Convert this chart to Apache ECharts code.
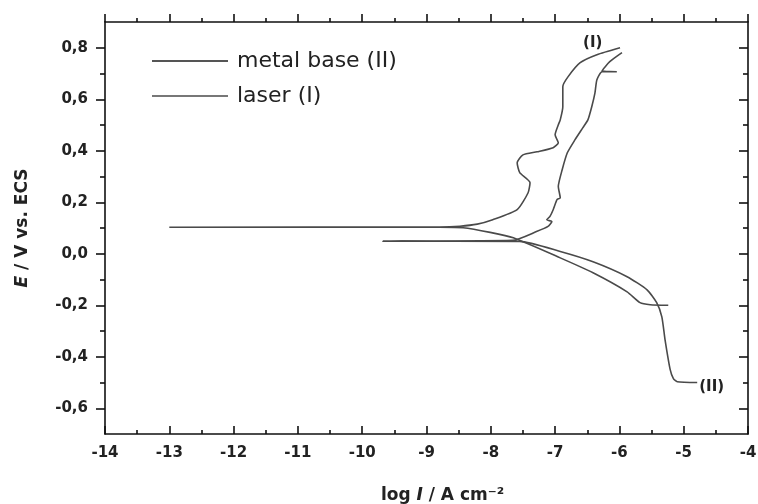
<!DOCTYPE html>
<html>
<head>
<meta charset="utf-8">
<script src="https://cdn.jsdelivr.net/npm/echarts@6/dist/echarts.min.js"></script>
<style>
html, body { margin: 0; padding: 0; background: #fff; }
#main { width: 758px; height: 504px; }
</style>
</head>
<body>
<div id="main"></div>
<script>
// polarisation curves, log i / A cm-2 against E / V vs. ECS
// laser: cathodic tail -> corrosion potential -> anodic end
var laserLogI = [-5.24, -5.52, -5.68, -5.88, -6.41, -6.92, -7.65, -8.01, -8.43, -8.8, -13.0,
                 -8.8, -8.48, -8.21, -7.97, -7.59, -7.42, -7.39, -7.55, -7.59, -7.50, -7.28,
                 -7.03, -6.95, -7.00, -6.95, -6.92, -6.88, -6.88, -6.80, -6.61, -6.35, -5.99];
var laserE = [-0.200, -0.198, -0.190, -0.148, -0.074, -0.016, 0.062, 0.083, 0.101, 0.103, 0.103,
              0.104, 0.107, 0.115, 0.132, 0.171, 0.237, 0.276, 0.315, 0.353, 0.384, 0.396,
              0.412, 0.431, 0.462, 0.501, 0.520, 0.571, 0.649, 0.687, 0.742, 0.773, 0.800];
// metal base: anodic end -> corrosion potential -> cathodic tail
var metalLogI = [-5.96, -6.15, -6.27, -6.04, -6.27, -6.35, -6.38, -6.43, -6.49, -6.57, -6.69,
                 -6.81, -6.89, -6.95, -6.92, -6.97, -7.03, -7.08, -7.13, -7.05, -7.11, -7.28,
                 -7.66, -9.68, -7.55, -6.92, -6.41, -5.88, -5.57, -5.42, -5.34, -5.29, -5.21,
                 -5.16, -5.10, -4.79];
var metalE = [0.781, 0.746, 0.710, 0.707, 0.707, 0.676, 0.625, 0.571, 0.520, 0.489, 0.443,
              0.392, 0.326, 0.261, 0.217, 0.210, 0.171, 0.145, 0.132, 0.125, 0.106, 0.087,
              0.052, 0.049, 0.048, 0.009, -0.031, -0.089, -0.140, -0.190, -0.245, -0.334, -0.450,
              -0.485, -0.497, -0.500];
var seriesNames = ['metal base (II)', 'laser (I)'];
var curveTags = ['(II)', '(I)'];
var yMajorTicks = [-0.6, -0.4, -0.2, 0, 0.2, 0.4, 0.6, 0.8];
var yMinorTicks = [-0.5, -0.3, -0.1, 0.1, 0.3, 0.5, 0.7];

function pairs(xs, ys) {
    var out = [];
    for (var i = 0; i < xs.length; i++) out.push([xs[i], ys[i]]);
    return out;
}

var ink = '#111';
var font = 'DejaVu Sans';
var axisLineStyle = { onZero: false, lineStyle: { color: ink, width: 1.6 } };
var tickStyle = { color: ink, width: 1.6 };

var chart = echarts.init(document.getElementById('main'));
var option = {
    animation: false,
    backgroundColor: '#fff',
    grid: { left: 105, right: 10, top: 22, bottom: 70, containLabel: false, outerBoundsMode: 'none' },
    legend: {
        orient: 'vertical',
        left: 147,
        top: 45,
        icon: 'rect',
        itemWidth: 76,
        itemHeight: 2,
        itemGap: 13,
        selectedMode: false,
        data: seriesNames,
        textStyle: { fontFamily: font, fontSize: 22, color: '#222', padding: [0, 0, 0, 4] }
    },
    xAxis: [{
        type: 'value', position: 'bottom', min: -14, max: -4, interval: 1,
        axisLine: axisLineStyle,
        axisTick: { inside: true, length: 8, lineStyle: tickStyle },
        minorTick: { show: true, splitNumber: 2, length: 4, lineStyle: tickStyle },
        splitLine: { show: false }, minorSplitLine: { show: false },
        axisLabel: { margin: 12, color: '#222', fontFamily: font, fontWeight: 'bold', fontSize: 15 },
        name: 'log {i|I} / A cm⁻²',
        nameLocation: 'middle',
        nameGap: 53,
        nameMoveOverlap: false,
        nameTextStyle: {
            fontFamily: font, fontWeight: 'bold', fontSize: 17, color: '#222', padding: [0, 0, 0, 32],
            rich: { i: { fontFamily: font, fontWeight: 'bold', fontStyle: 'italic', fontSize: 17, color: '#222' } }
        }
    }, {
        type: 'value', position: 'top', min: -14, max: -4, interval: 1,
        axisLine: axisLineStyle,
        axisTick: { inside: false, length: 8, lineStyle: tickStyle },
        minorTick: { show: true, splitNumber: 2, length: 4, lineStyle: tickStyle },
        splitLine: { show: false }, minorSplitLine: { show: false },
        axisLabel: { show: false }
    }],
    yAxis: [{
        type: 'value', position: 'left', min: -0.7, max: 0.9,
        axisLine: axisLineStyle,
        axisTick: { inside: false, length: 9, lineStyle: tickStyle, customValues: yMajorTicks },
        axisLabel: {
            customValues: yMajorTicks, margin: 17, color: '#222',
            fontFamily: font, fontWeight: 'bold', fontSize: 15,
            formatter: function (v) { return v.toFixed(1).replace('.', ','); }
        },
        splitLine: { show: false },
        name: '{i|E} / V vs. ECS',
        nameLocation: 'middle',
        nameGap: 74,
        nameMoveOverlap: false,
        nameTextStyle: {
            fontFamily: font, fontWeight: 'bold', fontSize: 17, color: '#222',
            rich: { i: { fontFamily: font, fontWeight: 'bold', fontStyle: 'italic', fontSize: 17, color: '#222' } }
        }
    }, {
        type: 'value', position: 'right', min: -0.7, max: 0.9,
        axisLine: axisLineStyle,
        axisTick: { inside: true, length: 9, lineStyle: tickStyle, customValues: yMajorTicks },
        axisLabel: { show: false },
        splitLine: { show: false }
    }, {
        type: 'value', position: 'left', min: -0.7, max: 0.9,
        axisLine: { show: false, onZero: false },
        axisTick: { inside: false, length: 5, lineStyle: tickStyle, customValues: yMinorTicks },
        axisLabel: { show: false },
        splitLine: { show: false }
    }, {
        type: 'value', position: 'right', min: -0.7, max: 0.9,
        axisLine: { show: false, onZero: false },
        axisTick: { inside: true, length: 5, lineStyle: tickStyle, customValues: yMinorTicks },
        axisLabel: { show: false },
        splitLine: { show: false }
    }],
    series: [{
        name: seriesNames[0],
        type: 'line',
        xAxisIndex: 0, yAxisIndex: 0,
        symbol: 'none',
        smooth: 0.2,
        color: '#555',
        lineStyle: { color: '#4a4a4a', width: 1.6 },
        data: pairs(metalLogI, metalE),
        endLabel: {
            show: true, formatter: curveTags[0], distance: 2, offset: [0, 5],
            fontFamily: font, fontWeight: 'bold', fontSize: 15, color: '#222'
        }
    }, {
        name: seriesNames[1],
        type: 'line',
        xAxisIndex: 0, yAxisIndex: 0,
        symbol: 'none',
        smooth: 0.2,
        color: '#777',
        lineStyle: { color: '#4a4a4a', width: 1.6 },
        data: pairs(laserLogI, laserE),
        endLabel: {
            show: true, formatter: curveTags[1], distance: 0, offset: [-37, -5],
            fontFamily: font, fontWeight: 'bold', fontSize: 15, color: '#222'
        }
    }]
};
chart.setOption(option);
</script>
</body>
</html>
